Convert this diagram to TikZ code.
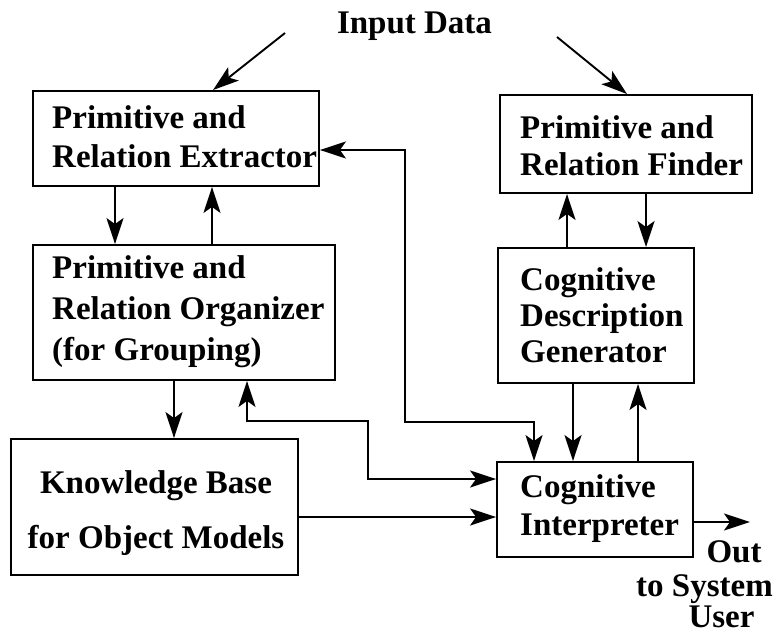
\documentclass[tikz,border=0pt]{standalone}
\usepackage{fontspec}
\setmainfont{Liberation Serif}
\usetikzlibrary{arrows.meta}
\begin{document}
\begin{tikzpicture}[x=1pt,y=-1pt,
  every node/.style={font=\bfseries\fontsize{33}{39}\selectfont},
  box/.style={draw, line width=1.9pt, inner sep=0pt},
  txt/.style={inner sep=0pt, align=left},
  tip/.style={Stealth[length=26pt,width=17pt,inset=6pt]},
  arr/.style={line width=1.9pt, -{Stealth[length=26pt,width=17pt,inset=6pt]}},
  arrs/.style={line width=1.9pt, {Stealth[length=26pt,width=17pt,inset=6pt]}-{Stealth[length=26pt,width=17pt,inset=6pt]}},
  lbl/.style={inner sep=0pt}]
\useasboundingbox (0,0) rectangle (779,634);

% processing blocks
\node[box, minimum width=286pt, minimum height=95pt] (PRE) at (176,138.5) {};
\node[txt, anchor=west] (PREt) at (52,136.4) {Primitive and\\Relation Extractor};

\node[box, minimum width=302pt, minimum height=135pt] (PRO) at (184,312.5) {};
\node[txt, anchor=west, font=\bfseries\fontsize{33}{41}\selectfont]
  (PROt) at (52,311.3) {Primitive and\\Relation Organizer\\(for Grouping)};

\node[box, minimum width=287pt, minimum height=136pt] (KB) at (154.5,507) {};
\node[txt, align=center, font=\bfseries\fontsize{33}{55}\selectfont]
  (KBt) at (156,512.7) {Knowledge Base\\for Object Models};

\node[box, minimum width=252pt, minimum height=98pt] (PRF) at (626,144) {};
\node[txt, anchor=west, font=\bfseries\fontsize{33}{37}\selectfont]
  (PRFt) at (520,145.4) {Primitive and\\Relation Finder};

\node[box, minimum width=196pt, minimum height=135pt] (CDG) at (596,315.5) {};
\node[txt, anchor=west, font=\bfseries\fontsize{33}{36}\selectfont]
  (CDGt) at (520,314.9) {Cognitive\\Description\\Generator};

\node[box, minimum width=196pt, minimum height=95pt] (CI) at (595,509.5) {};
\node[txt, anchor=west, font=\bfseries\fontsize{33}{38}\selectfont]
  (CIt) at (520,508.3) {Cognitive\\Interpreter};

% labels
\node[lbl, anchor=base] (IN) at (414.5,34) {Input Data};
\node[lbl, anchor=base] (OUT1) at (734,562) {Out};
\node[lbl, anchor=base] (OUT2) at (704.5,596) {to System};
\node[lbl, anchor=base] (OUT3) at (721.5,627) {User};

% helper positions
\coordinate (inA) at (285,33);
\coordinate (inB) at (557,37);
\coordinate (x115) at (115,0);
\coordinate (x212) at (212,0);
\coordinate (x174) at (174,0);
\coordinate (x247) at (247,0);
\coordinate (x213) at (213,0);
\coordinate (x627) at (627,0);
\coordinate (x567) at (567,0);
\coordinate (x646) at (646,0);
\coordinate (x573) at (573,0);
\coordinate (x638) at (638,0);
\coordinate (x534) at (534,0);
\coordinate (y150) at (0,150);
\coordinate (y479) at (0,479);
\coordinate (y517) at (0,517);
\coordinate (y522) at (0,522);
\coordinate (bendA) at (368,421);
\coordinate (bendB) at (405,422);
\coordinate (outEnd) at (750,522);

% input data
\draw[arr] (inA) -- (PRE.north -| x213);
\draw[arr] (inB) -- (PRF.north -| x627);

% left column
\draw[arr] (PRE.south -| x115) -- (PRO.north -| x115);
\draw[arr] (PRO.north -| x212) -- (PRE.south -| x212);
\draw[arr] (PRO.south -| x174) -- (KB.north -| x174);

% right column
\draw[arr] (CDG.north -| x567) -- (PRF.south -| x567);
\draw[arr] (PRF.south -| x646) -- (CDG.north -| x646);
\draw[arr] (CDG.south -| x573) -- (CI.north -| x573);
\draw[arr] (CI.north -| x638) -- (CDG.south -| x638);

% cross links
\draw[arrs] (PRE.east |- y150) -| (bendB) -| (CI.north -| x534);
\draw[arrs] (PRO.south -| x247) |- (bendA) |- (CI.west |- y479);
\draw[arr] (KB.east |- y517) -- (CI.west |- y517);
\draw[arr] (CI.east |- y522) -- (outEnd);
\end{tikzpicture}
\end{document}
